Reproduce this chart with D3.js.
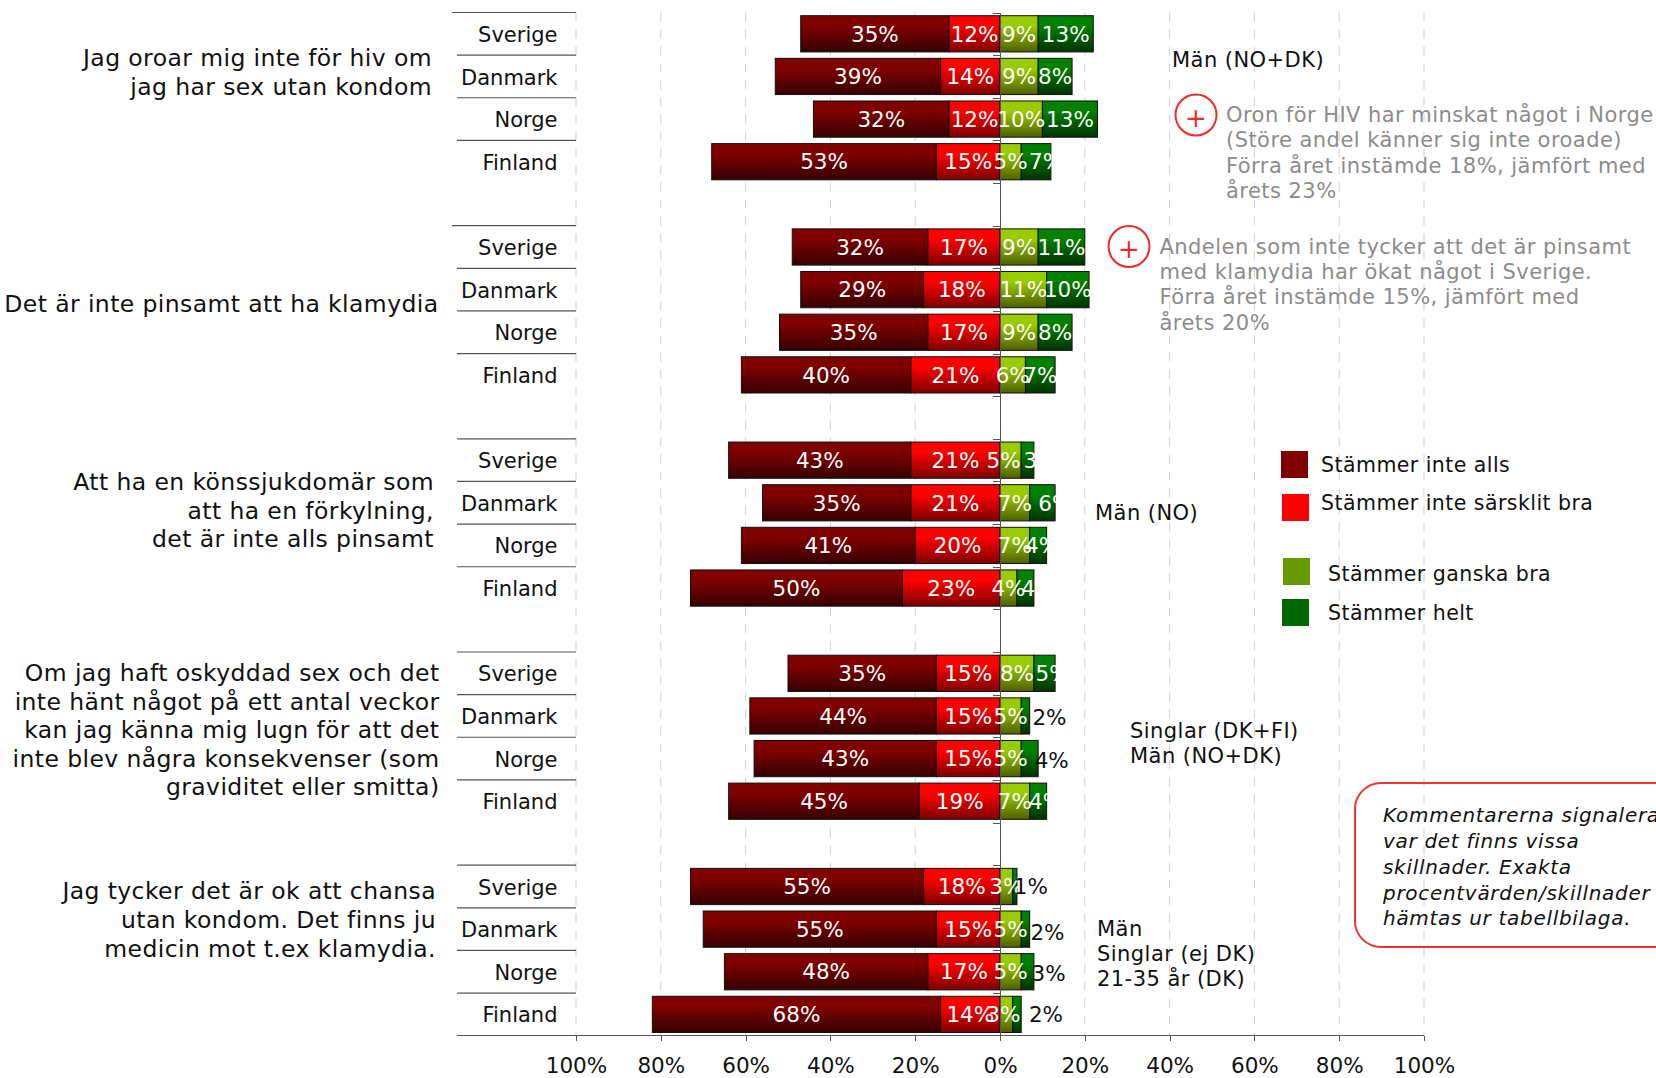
<!DOCTYPE html>
<html>
<head>
<meta charset="utf-8">
<script src="https://d3js.org/d3.v7.min.js"></script>
<style>
    html, body { margin: 0; padding: 0; background: #fff; }
    svg { display: block; font-family: "DejaVu Sans", sans-serif; }
    .axis path, .axis line { stroke: #555; shape-rendering: crispEdges; }
    .axis text { font-family: "DejaVu Sans", sans-serif; font-size: 21.5px; fill: #111; }
</style>
</head>
<body>
<div class="chart-area"></div>
<script>
// ---- Data ----
const countries = ["Sverige", "Danmark", "Norge", "Finland"];
const groupNames = [
    ["Jag oroar mig inte för hiv om", "jag har sex utan kondom"],
    ["Det är inte pinsamt att ha klamydia"],
    ["Att ha en könssjukdomär som", "att ha en förkylning,", "det är inte alls pinsamt"],
    ["Om jag haft oskyddad sex och det", "inte hänt något på ett antal veckor", "kan jag känna mig lugn för att det", "inte blev några konsekvenser (som", "graviditet eller smitta)"],
    ["Jag tycker det är ok att chansa", "utan kondom. Det finns ju", "medicin mot t.ex klamydia."]
];
const seriesNames = ["Stämmer inte alls", "Stämmer inte särsklit bra", "Stämmer ganska bra", "Stämmer helt"];

// one value per country per statement, in reading order
const inteAlls = [35, 39, 32, 53, 32, 29, 35, 40, 43, 35, 41, 50, 35, 44, 43, 45, 55, 55, 48, 68];
const inteSarskilt = [12, 14, 12, 15, 17, 18, 17, 21, 21, 21, 20, 23, 15, 15, 15, 19, 18, 15, 17, 14];
const ganskaBra = [9, 9, 10, 5, 9, 11, 9, 6, 5, 7, 7, 4, 8, 5, 5, 7, 3, 5, 5, 3];
const helt = [13, 8, 13, 7, 11, 10, 8, 7, 3, 6, 4, 4, 5, 2, 4, 4, 1, 2, 3, 2];

const xTicks = [-100, -80, -60, -40, -20, 0, 20, 40, 60, 80, 100];

// ---- Sizes ----
const svgWidth = 1656;
const svgHeight = 1078;
const rowCount = 24;   // 5 groups of 4 rows with one empty row between

const svg = d3.select(".chart-area").append("svg")
    .attr("width", svgWidth)
    .attr("height", svgHeight);

const x = d3.scaleLinear().domain([-100, 100]).range([576, 1424]);
const rowLine = d3.scaleLinear().domain([0, rowCount]).range([12.5, 1035.7]);
const y = d3.scaleBand().domain(d3.range(rowCount)).range([12.5, 1035.7])
    .paddingInner(0.15).paddingOuter(0.075);

// ---- Gradients, same look as the bars in the original ----
const barColors = [
    { top: "#800000", bottom: "#360000", flat: "#7f0000" },
    { top: "#ff0000", bottom: "#7c0000", flat: "#ff0000" },
    { top: "#99cc00", bottom: "#4f5f00", flat: "#669900" },
    { top: "#008000", bottom: "#003300", flat: "#006600" }
];
const defs = svg.append("defs");
barColors.forEach((c, i) => {
    const g = defs.append("linearGradient")
        .attr("id", "bar-grad-" + i)
        .attr("x1", 0).attr("x2", 0).attr("y1", 0).attr("y2", 1);
    g.append("stop").attr("offset", 0).attr("stop-color", c.top);
    g.append("stop").attr("offset", 0.28).attr("stop-color", c.top);
    g.append("stop").attr("offset", 1).attr("stop-color", c.bottom);
});

// ---- Build rows ----
const rows = inteAlls.map((d, i) => {
    const group = Math.floor(i / 4);
    const country = i % 4;
    return {
        id: i,
        group: group,
        country: countries[country],
        slot: group * 5 + country,
        values: [inteAlls[i], inteSarskilt[i], ganskaBra[i], helt[i]]
    };
});

const segments = rows.flatMap(r => {
    const [a, b, c, e] = r.values;
    return [
        { row: r, series: 0, value: a, from: -(a + b), to: -b },
        { row: r, series: 1, value: b, from: -b, to: 0 },
        { row: r, series: 2, value: c, from: 0, to: c },
        { row: r, series: 3, value: e, from: c, to: c + e }
    ];
});

// Labels the original moved by hand. key = row id + "-" + series
const labelTweaks = {
    "3-3": { dx: 10 },
    "8-2": { dx: -7 },
    "8-3": { dx: 13 },
    "9-3": { dx: 13 },
    "10-3": { dx: 4 },
    "11-3": { dx: 13 },
    "12-3": { dx: 8 },
    "13-3": { dx: 24, dy: 1, dark: true },
    "14-3": { dx: 22, dy: 2, dark: true },
    "15-3": { dx: 8 },
    "16-3": { dx: 16, dark: true },
    "17-3": { dx: 22, dy: 3, dark: true },
    "18-3": { dx: 21, dy: 2, dark: true },
    "19-2": { dx: -3 },
    "19-3": { dx: 29, dark: true }
};

// ---- Gridlines ----
svg.append("g").selectAll("line")
    .data(xTicks.filter(d => d !== 0))
    .join("line")
    .attr("x1", d => x(d))
    .attr("x2", d => x(d))
    .attr("y1", rowLine(0))
    .attr("y2", rowLine(rowCount))
    .attr("stroke", "#cfcfcf")
    .attr("stroke-width", 1)
    .attr("stroke-dasharray", "9,8");

// ---- Row separators to the left ----
const sepRows = d3.range(rowCount).filter(d => d % 5 !== 4);
svg.append("g").selectAll("line")
    .data(sepRows)
    .join("line")
    .attr("x1", d => (d < 6 && d % 5 === 0) ? 452 : 457)
    .attr("x2", x(-100))
    .attr("y1", d => rowLine(d))
    .attr("y2", d => rowLine(d))
    .attr("stroke", "#555")
    .attr("stroke-width", 1.2);

// ---- Bars ----
svg.append("g").selectAll("rect")
    .data(segments)
    .join("rect")
    .attr("x", d => x(d.from))
    .attr("y", d => y(d.row.slot))
    .attr("width", d => x(d.to) - x(d.from))
    .attr("height", y.bandwidth())
    .attr("fill", d => `url(#bar-grad-${d.series})`)
    .attr("stroke", "#111")
    .attr("stroke-width", 1);

// ---- Axes ----
const xAxis = d3.axisBottom(x)
    .tickValues(xTicks)
    .tickSize(5)
    .tickPadding(17)
    .tickFormat(d => Math.abs(d) + "%");
svg.append("g")
    .attr("class", "axis")
    .attr("transform", `translate(0, ${rowLine(rowCount)})`)
    .call(xAxis)
    .call(g => g.select(".domain").attr("d", `M457,0H${x(100)}`));

const zeroAxis = d3.axisLeft(rowLine)
    .tickValues(d3.range(rowCount))
    .tickSize(7)
    .tickFormat("");
svg.append("g")
    .attr("class", "axis")
    .attr("transform", `translate(${x(0)}, 0)`)
    .call(zeroAxis)
    .call(g => g.select(".domain").attr("d", `M0,${rowLine(0)}V${rowLine(rowCount)}`));

// ---- Value labels ----
svg.append("g").selectAll("text")
    .data(segments)
    .join("text")
    .attr("x", d => {
        const t = labelTweaks[d.row.id + "-" + d.series];
        return x((d.from + d.to) / 2) + (t && t.dx ? t.dx : 0);
    })
    .attr("y", d => {
        const t = labelTweaks[d.row.id + "-" + d.series];
        return y(d.row.slot) + y.bandwidth() / 2 + (t && t.dy ? t.dy : 0);
    })
    .attr("dy", "0.36em")
    .attr("text-anchor", "middle")
    .attr("fill", d => {
        const t = labelTweaks[d.row.id + "-" + d.series];
        return t && t.dark ? "#111" : "#fff";
    })
    .style("font-size", "21.5px")
    .text(d => d.value + "%");

// ---- Country labels ----
svg.append("g").selectAll("text")
    .data(rows)
    .join("text")
    .attr("x", 557.5)
    .attr("y", d => y(d.slot) + y.bandwidth() / 2 + 0.5)
    .attr("dy", "0.36em")
    .attr("text-anchor", "end")
    .attr("fill", "#111")
    .style("font-size", "21px")
    .text(d => d.country);

// ---- Small helper for block text ----
function textBlock(lines, xPos, firstY, pitch, opts) {
    const o = opts || {};
    svg.append("g").selectAll("text")
        .data(lines)
        .join("text")
        .attr("x", xPos)
        .attr("y", (d, i) => firstY + i * pitch)
        .attr("dy", "0.36em")
        .attr("text-anchor", o.anchor || "start")
        .attr("fill", o.color || "#111")
        .style("font-size", (o.size || 21) + "px")
        .style("font-style", o.italic ? "italic" : "normal")
        .style("letter-spacing", (o.spacing === undefined ? 0.45 : o.spacing) + "px")
        .text(d => d);
}

// ---- Statements on the left ----
const statementPos = [
    { right: 432, top: 58 },
    { right: 438.5, top: 304 },
    { right: 434, top: 481.5 },
    { right: 439.5, top: 672.5 },
    { right: 436, top: 891 }
];
groupNames.forEach((lines, i) => {
    textBlock(lines, statementPos[i].right, statementPos[i].top, 28.6, { anchor: "end", size: 23.5, spacing: 0.4 });
});

// ---- Notes on the right ----
textBlock(["Män (NO+DK)"], 1172, 59, 25.4);
textBlock(["Män (NO)"], 1095, 512, 25.4);
textBlock(["Singlar (DK+FI)", "Män (NO+DK)"], 1130, 730.5, 25.4);
textBlock(["Män", "Singlar (ej DK)", "21-35 år (DK)"], 1097, 928, 25.4);

const grey = "#8c8c8c";
textBlock([
    "Oron för HIV har minskat något i Norge",
    "(Störe andel känner sig inte oroade)",
    "Förra året instämde 18%, jämfört med",
    "årets 23%"
], 1226, 114.5, 25.4, { color: grey });
textBlock([
    "Andelen som inte tycker att det är pinsamt",
    "med klamydia har ökat något i Sverige.",
    "Förra året instämde 15%, jämfört med",
    "årets 20%"
], 1159.5, 246, 25.4, { color: grey });

// ---- Red plus circles ----
[[1196, 115], [1129, 246.5]].forEach(([cx, cy]) => {
    svg.append("circle")
        .attr("cx", cx).attr("cy", cy).attr("r", 20.5)
        .attr("fill", "none")
        .attr("stroke", "#ee2a2a")
        .attr("stroke-width", 2);
    svg.append("text")
        .attr("x", cx).attr("y", cy + 2.5)
        .attr("dy", "0.36em")
        .attr("text-anchor", "middle")
        .attr("fill", "#ee2a2a")
        .style("font-size", "26px")
        .text("+");
});

// ---- Legend ----
const legendPos = [
    { boxX: 1281, boxY: 451, textX: 1321, textY: 465 },
    { boxX: 1282, boxY: 494, textX: 1321, textY: 503 },
    { boxX: 1283, boxY: 558, textX: 1328, textY: 574 },
    { boxX: 1282, boxY: 599, textX: 1328, textY: 613 }
];
const legend = svg.append("g").attr("class", "legend");
legend.selectAll("rect")
    .data(seriesNames)
    .join("rect")
    .attr("x", (d, i) => legendPos[i].boxX)
    .attr("y", (d, i) => legendPos[i].boxY)
    .attr("width", 27)
    .attr("height", 27)
    .attr("fill", (d, i) => barColors[i].flat);
legend.selectAll("text")
    .data(seriesNames)
    .join("text")
    .attr("x", (d, i) => legendPos[i].textX)
    .attr("y", (d, i) => legendPos[i].textY)
    .attr("dy", "0.36em")
    .attr("fill", "#111")
    .style("font-size", "20.5px")
    .style("letter-spacing", "0.45px")
    .text(d => d);

// ---- Comment box, runs off the page like the original ----
svg.append("rect")
    .attr("x", 1355).attr("y", 783)
    .attr("width", 340).attr("height", 164)
    .attr("rx", 26).attr("ry", 26)
    .attr("fill", "none")
    .attr("stroke", "#ee3333")
    .attr("stroke-width", 2);
textBlock([
    "Kommentarerna signalerar",
    "var det finns vissa",
    "skillnader. Exakta",
    "procentvärden/skillnader",
    "hämtas ur tabellbilaga."
], 1383, 815, 25.8, { italic: true, size: 20, spacing: 0.7 });
</script>
</body>
</html>
